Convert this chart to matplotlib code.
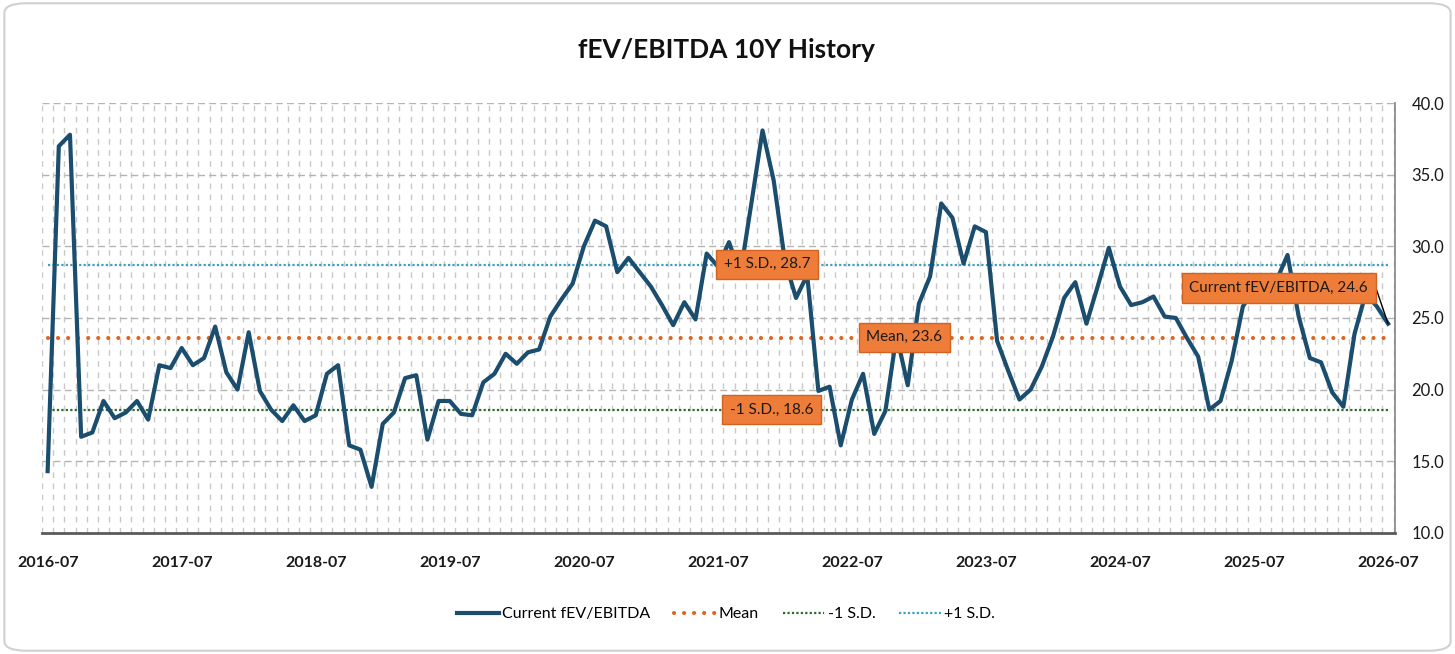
import numpy as np
import pandas as pd
import matplotlib
matplotlib.use("Agg")
import matplotlib.pyplot as plt
from matplotlib.patches import FancyBboxPatch

# monthly fEV/EBITDA, 2016-07 .. 2026-07
dates = pd.date_range("2016-07-01", "2026-07-01", freq="MS")
fev_ebitda = [
    14.3, 37.0, 37.8, 16.7, 17.0, 19.2, 18.0, 18.4, 19.2, 17.9, 21.7, 21.5,
    22.9, 21.7, 22.2, 24.4, 21.2, 20.0, 24.0, 19.9, 18.6, 17.8, 18.9, 17.8,
    18.2, 21.1, 21.7, 16.1, 15.8, 13.2, 17.6, 18.4, 20.8, 21.0, 16.5, 19.2,
    19.2, 18.3, 18.2, 20.5, 21.1, 22.5, 21.8, 22.6, 22.8, 25.1, 26.3, 27.4,
    30.0, 31.8, 31.4, 28.2, 29.2, 28.2, 27.2, 25.9, 24.5, 26.1, 24.9, 29.5,
    28.6, 30.3, 28.0, 33.0, 38.1, 34.6, 29.0, 26.4, 28.0, 19.9, 20.2, 16.1,
    19.3, 21.1, 16.9, 18.5, 23.8, 20.3, 26.0, 27.9, 33.0, 32.0, 28.8, 31.4,
    31.0, 23.4, 21.3, 19.3, 20.0, 21.6, 23.7, 26.4, 27.5, 24.6, 27.2, 29.9,
    27.2, 25.9, 26.1, 26.5, 25.1, 25.0, 23.6, 22.3, 18.6, 19.2, 22.0, 25.8,
    27.0, 28.0, 27.6, 29.4, 25.1, 22.2, 21.9, 19.8, 18.8, 23.9, 26.7, 25.8,
    24.6,
]
mean_val = 23.6
minus_sd = 18.6
plus_sd = 28.7
tick_labels = [d.strftime("%Y-%m") for d in dates][::12]

plt.rcParams['font.family'] = ['Liberation Sans Narrow', 'Lato', 'DejaVu Sans']

x = np.arange(len(fev_ebitda))
fig = plt.figure(figsize=(14.55, 6.54), dpi=100)
ax = fig.add_axes([0.0289, 0.1855, 0.9297, 0.6566])

# grid
for gx in np.arange(-0.5, len(x), 1.0):
    ax.axvline(gx, color='#c8c8c8', lw=1, linestyle=(0, (4, 4)), zorder=0)
for gy in [15, 20, 25, 30, 35, 40]:
    ax.axhline(gy, color='#b4b4b4', lw=1, linestyle=(0, (5, 3)), zorder=0)

ax.plot(x, fev_ebitda, color='#1a4d6e', lw=3.0, label='Current fEV/EBITDA', zorder=4)
ax.plot(x, [mean_val] * len(x), color='#e0651f', lw=3.0, linestyle=(0, (0.01, 2.4)),
        dash_capstyle='round', label='Mean', zorder=3)
ax.plot(x, [minus_sd] * len(x), color='#2d6a2d', lw=1.6, linestyle=(0, (1, 1)),
        label='-1 S.D.', zorder=3)
ax.plot(x, [plus_sd] * len(x), color='#3aa0c8', lw=1.6, linestyle=(0, (1, 1)),
        label='+1 S.D.', zorder=3)

box = dict(boxstyle='square,pad=0.5', facecolor='#ef7d3a', edgecolor='#d2621f', lw=1)
ax.text(64.4, 28.75, '+1 S.D., 28.7', ha='center', va='center', fontsize=11,
        color='#1a1a1a', bbox=box, zorder=6)
ax.text(76.7, 23.66, 'Mean, 23.6', ha='center', va='center', fontsize=11,
        color='#1a1a1a', bbox=box, zorder=6)
ax.text(64.8, 18.6, '-1 S.D., 18.6', ha='center', va='center', fontsize=11,
        color='#1a1a1a', bbox=box, zorder=6)
ax.annotate('Current fEV/EBITDA, 24.6', xy=(x[-1], fev_ebitda[-1]), xytext=(110.2, 27.1),
            ha='center', va='center', fontsize=11, color='#1a1a1a', bbox=box, zorder=6,
            arrowprops=dict(arrowstyle='-', color='black', lw=1, shrinkA=0, shrinkB=0,
                            relpos=(1, 0.5),
                            connectionstyle='arc,angleA=0,armA=8,angleB=0,armB=0,rad=0'))

ax.set_xlim(-0.5, 120.6)
ax.set_ylim(10, 40)
ax.set_xticks(x[::12])
ax.set_xticklabels(tick_labels)
ax.set_yticks([10, 15, 20, 25, 30, 35, 40])
ax.set_yticklabels(['%.1f' % v for v in [10, 15, 20, 25, 30, 35, 40]])
ax.yaxis.tick_right()
ax.tick_params(axis='x', length=0, pad=17, labelsize=11.5, labelcolor='#1a1a1a')
ax.tick_params(axis='y', length=0, pad=12, labelsize=12, labelcolor='#1a1a1a')
for lab in ax.get_xticklabels():
    lab.set_fontweight('bold')

ax.spines['top'].set_visible(False)
ax.spines['left'].set_visible(False)
ax.spines['bottom'].set_color('#5a5a5a')
ax.spines['bottom'].set_linewidth(2)
ax.spines['right'].set_color('#8c8c8c')
ax.spines['right'].set_linewidth(1.3)

fig.text(0.4995, 0.924, 'fEV/EBITDA 10Y History', ha='center', va='center',
         fontsize=19, fontweight='bold', color='#111111')

fig.legend(*ax.get_legend_handles_labels(), loc='center', bbox_to_anchor=(0.499, 0.061),
           ncol=4, frameon=False, fontsize=11.5, handlelength=2.6, handletextpad=0.2,
           columnspacing=1.5)

fig.patches.append(FancyBboxPatch((0.003, 0.005), 0.994, 0.99,
                                  boxstyle='round,pad=0,rounding_size=0.015',
                                  transform=fig.transFigure, facecolor='none',
                                  edgecolor='#d0d0d0', lw=1.5))

fig.savefig('out.png', dpi=100)
